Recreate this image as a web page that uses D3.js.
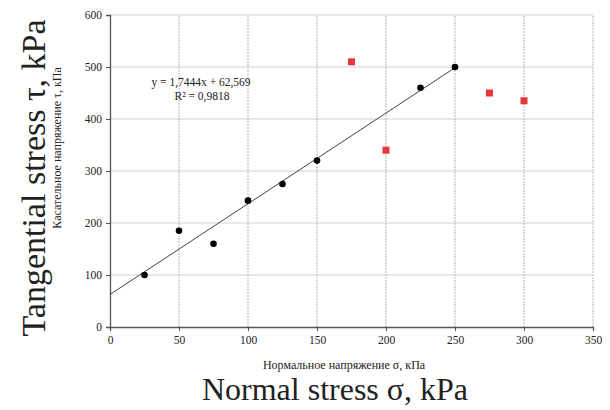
<!DOCTYPE html>
<html>
<head>
<meta charset="utf-8">
<script src="https://cdn.jsdelivr.net/npm/d3@7"></script>
<style>
  body { margin: 0; background: #fff; }
</style>
</head>
<body>
<svg id="chart" width="610" height="410"></svg>
<script>
// data
var fitX = [25, 50, 75, 100, 125, 150, 225, 250];
var fitY = [100, 185, 160, 243, 275, 320, 460, 500];
var outX = [175, 200, 275, 300];
var outY = [510, 340, 450, 435];
var slope = 1.7444, intercept = 62.569;
var trendEnds = [0, 250];
var xTicks = [0, 50, 100, 150, 200, 250, 300, 350];
var yTicks = [0, 100, 200, 300, 400, 500, 600];
var eqLabel = "y = 1,7444x + 62,569";
var r2Label = "R² = 0,9818";

var serif = "'Liberation Serif', 'DejaVu Serif', serif";
var svg = d3.select("#chart").attr("font-family", serif);
var margin = { left: 110, right: 17, top: 15, bottom: 83 };
var W = 610, H = 410;

var x = d3.scaleLinear().domain([0, 350]).range([margin.left, W - margin.right]);
var y = d3.scaleLinear().domain([0, 600]).range([H - margin.bottom, margin.top]);

// grid
svg.append("g").selectAll("line").data(yTicks.slice(1)).enter().append("line")
    .attr("x1", x(0)).attr("x2", x(350))
    .attr("y1", d => y(d)).attr("y2", d => y(d))
    .attr("stroke", "#cfcfcf").attr("stroke-width", 1);
svg.append("g").selectAll("line").data(xTicks.slice(1)).enter().append("line")
    .attr("x1", d => x(d)).attr("x2", d => x(d))
    .attr("y1", y(0)).attr("y2", y(600))
    .attr("stroke", "#b5b5b5").attr("stroke-width", 1)
    .attr("stroke-dasharray", "2,1");

// axes
var xAxis = svg.append("g").attr("transform", `translate(0,${y(0)})`)
    .call(d3.axisBottom(x).tickValues(xTicks).tickSize(4).tickPadding(5));
var yAxis = svg.append("g").attr("transform", `translate(${x(0)},0)`)
    .call(d3.axisLeft(y).tickValues(yTicks).tickSize(4).tickPadding(4));
[xAxis, yAxis].forEach(function (a) {
    a.attr("font-family", serif).attr("font-size", 11.5);
    a.select(".domain").attr("stroke", "#555").attr("stroke-width", 1.3);
    a.selectAll(".tick line").attr("stroke", "#555");
    a.selectAll("text").attr("fill", "#222");
});

// trend line
svg.append("line")
    .attr("x1", x(trendEnds[0])).attr("y1", y(slope * trendEnds[0] + intercept))
    .attr("x2", x(trendEnds[1])).attr("y2", y(slope * trendEnds[1] + intercept))
    .attr("stroke", "#444").attr("stroke-width", 1);

// points
svg.append("g").selectAll("circle").data(fitX).enter().append("circle")
    .attr("cx", d => x(d)).attr("cy", (d, i) => y(fitY[i]))
    .attr("r", 3.3).attr("fill", "#000");

svg.append("g").selectAll("rect").data(outX).enter().append("rect")
    .attr("x", d => x(d) - 3.5).attr("y", (d, i) => y(outY[i]) - 3.5)
    .attr("width", 7).attr("height", 7).attr("fill", "#e8373a");

function label(tx, ty, rot, size, str) {
    return svg.append("text")
        .attr("transform", `translate(${tx},${ty})` + (rot ? ` rotate(${rot})` : ""))
        .attr("text-anchor", "middle")
        .attr("font-family", serif)
        .attr("font-size", size).attr("fill", "#222").text(str);
}

// equation
label(201, 86, 0, 11.5, eqLabel);
label(202, 100, 0, 11.5, r2Label);

// axis titles
label(344, 368.5, 0, 12, "Нормальное напряжение σ, кПа");
label(335, 400, 0, 32, "Normal stress σ, kPa");
label(61, 148, -90, 12, "Касательное напряжение τ, кПа");
label(45, 178, -90, 34, "Tangential stress τ, kPa");
</script>
</body>
</html>
